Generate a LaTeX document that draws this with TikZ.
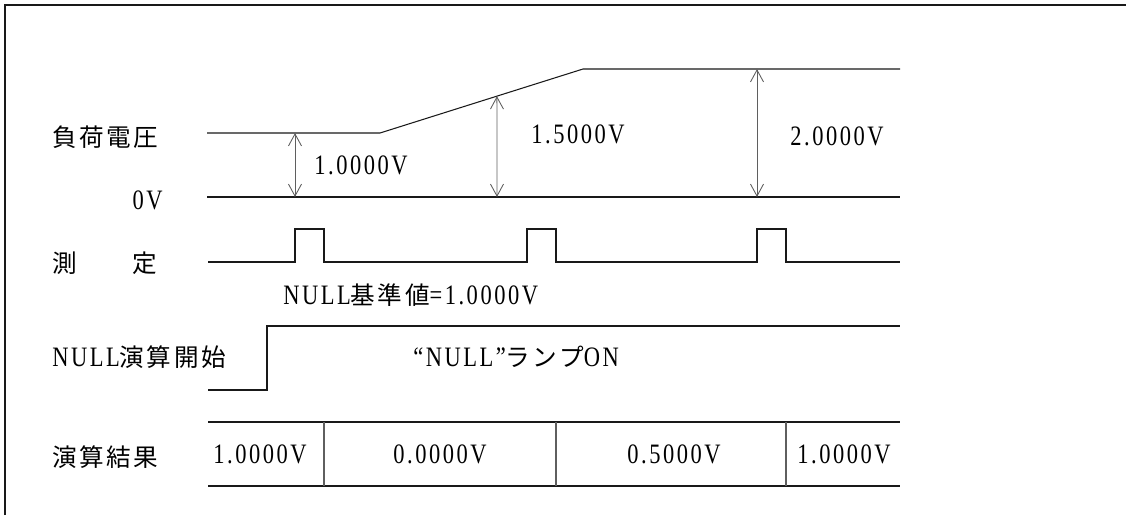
\documentclass[tikz,border=0pt]{standalone}
\usepackage{fontspec}
\setmainfont{Liberation Serif}[FakeStretch=0.8, LetterSpace=9]
\newfontfamily\jpfont{Noto Sans CJK JP}[LetterSpace=10]
\usetikzlibrary{arrows.meta,positioning,calc}
\definecolor{waveblack}{RGB}{25,25,25}
\definecolor{dimgray}{RGB}{95,95,95}
\newcommand{\jp}[1]{{\fontsize{14}{16}\selectfont\jpfont #1}}
\tikzset{
    wave/.style={draw=waveblack, line width=0.6pt},
    dimline/.style={
        {Straight Barb[length=2.4mm,width=2.6mm]}-{Straight Barb[length=2.4mm,width=2.6mm]},
        draw=dimgray, line width=0.5pt
    },
    divider/.style={draw=dimgray, line width=0.6pt},
    rowlabel/.style={anchor=west, inner sep=0pt, font=\fontsize{16}{18}\selectfont},
    vallabel/.style={inner sep=0pt, font=\fontsize{16}{18}\selectfont},
}

\begin{document}
\begin{tikzpicture}[x=0.02cm, y=-0.02cm]
    \useasboundingbox (0,0) rectangle (1126,515);

    % Frame (left and top edge only)
    \coordinate (framebl) at (5,515);
    \coordinate (frametl) at (5,5);
    \coordinate (frametr) at (1126,5);
    \draw[wave] (framebl) -- (frametl) -- (frametr);

    % Load voltage and 0V line
    \coordinate (vstart) at (207,133);
    \coordinate (rampa) at (380,133);
    \coordinate (rampb) at (583,69);
    \coordinate (vend) at (900,69);
    \coordinate (zstart) at (207,197);
    \coordinate (zend) at (900,197);
    \draw[wave] (vstart) -- (rampa) -- (rampb) -- (vend);
    \draw[wave] (zstart) -- (zend);

    % Dimension arrows
    \coordinate (dima) at (295,197);
    \coordinate (dimb) at (497,197);
    \coordinate (dimc) at (757,197);
    \coordinate (dimbtop) at ($(rampa)!0.576!(rampb)$);
    \draw[dimline] (dima |- vstart) -- (dima);
    \draw[dimline] (dimbtop) -- (dimb);
    \draw[dimline] (dimc |- vend) -- (dimc);
    \node[vallabel] (vala) at (361,165) {1.0000V};
    \node[vallabel] (valb) at (578,134) {1.5000V};
    \node[vallabel] (valc) at (837,136) {2.0000V};

    % Measurement pulses
    \draw[wave] (208,262) -| (295,229) -| (324,262) -| (527,229) -| (556,262)
        -| (757,229) -| (786,262) -- (900,262);
    \node[vallabel, anchor=west] (nullref) at (283,295) {NULL\jp{基準値}=1.0000V};

    % NULL start step
    \draw[wave] (208,390) -| (267,326) -- (900,326);
    \node[vallabel, anchor=west] (lamp) at (413,357) {“NULL”\jp{ランプ}ON};

    % Result row
    \coordinate (restl) at (208,422);
    \coordinate (restr) at (900,422);
    \coordinate (resbl) at (208,486);
    \coordinate (resbr) at (900,486);
    \draw[wave] (restl) -- (restr);
    \draw[wave] (resbl) -- (resbr);
    \foreach \dx in {324,556,786}
        \draw[divider] (\dx,422) -- (\dx,486);
    \node[vallabel] (resa) at (260,454) {1.0000V};
    \node[vallabel] (resb) at (440,454) {0.0000V};
    \node[vallabel] (resc) at (674,454) {0.5000V};
    \node[vallabel] (resd) at (844,454) {1.0000V};

    % Row labels
    \node[rowlabel] (loadv) at (52,137) {\jp{負荷電圧}};
    \node[rowlabel, anchor=east] (zerov) at (163,200) {0V};
    \node[rowlabel] (meas) at (52,263) {\jp{測}\hspace{1.12cm}\jp{定}};
    \node[rowlabel] (nullstart) at (52,357) {NULL\jp{演算開始}};
    \node[rowlabel] (result) at (52,457) {\jp{演算結果}};
\end{tikzpicture}
\end{document}
